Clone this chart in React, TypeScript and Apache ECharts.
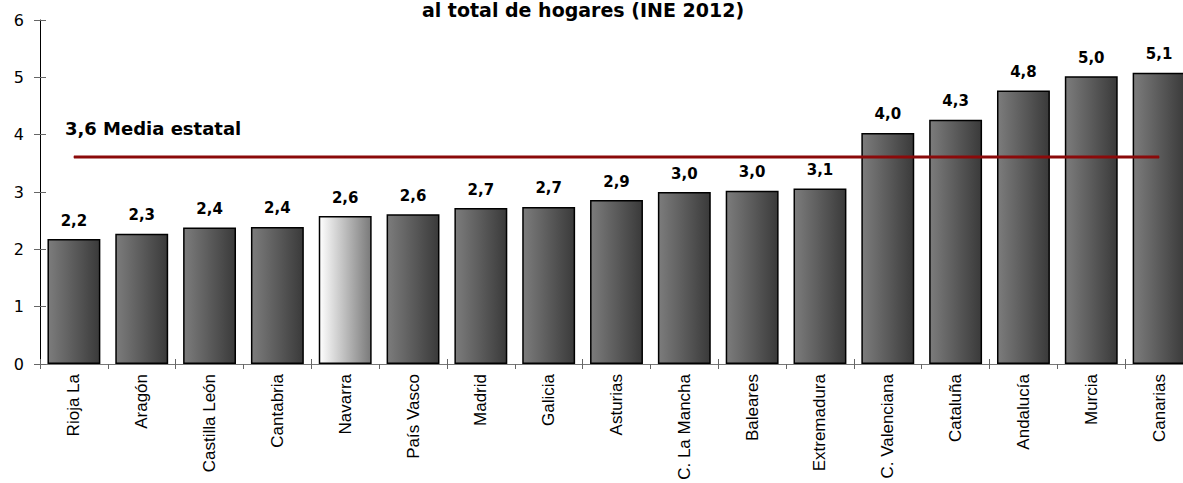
import React, { useEffect, useRef } from 'react';
import * as echarts from 'echarts';

const categories = [
  'Rioja La', 'Aragón', 'Castilla León', 'Cantabria', 'Navarra', 'País Vasco',
  'Madrid', 'Galicia', 'Asturias', 'C. La Mancha', 'Baleares', 'Extremadura',
  'C. Valenciana', 'Cataluña', 'Andalucía', 'Murcia', 'Canarias',
];
const values = [2.18, 2.27, 2.38, 2.39, 2.58, 2.61, 2.72, 2.74, 2.86, 3.0, 3.02, 3.06, 4.03, 4.26, 4.77, 5.02, 5.08];
const nationalMean = 3.61;
const meanLabel = 'Media estatal';
const highlighted = 'Navarra';
const titleText = 'al total de hogares (INE 2012)';
const yMin = 0;
const yMax = 6;
const yInterval = 1;

const fmt = (v: number) => v.toFixed(1).replace('.', ',');

export default function App() {
  const ref = useRef<HTMLDivElement>(null);
  useEffect(() => {
    if (!ref.current) return;
    const chart = echarts.init(ref.current, undefined, { renderer: 'svg' });
    const darkGrad = new echarts.graphic.LinearGradient(0, 0, 1, 0, [
      { offset: 0, color: '#7c7c7c' },
      { offset: 1, color: '#3a3a3a' },
    ]);
    const lightGrad = new echarts.graphic.LinearGradient(0, 0, 1, 0, [
      { offset: 0, color: '#ffffff' },
      { offset: 1, color: '#7a7a7a' },
    ]);
    const boldFont = { fontFamily: 'DejaVu Sans', fontWeight: 'bold' as const, color: '#000' };
    chart.setOption({
      animation: false,
      backgroundColor: '#fff',
      grid: { left: 40, right: 0, top: 20, bottom: 119, containLabel: false },
      graphic: [
        {
          type: 'text',
          x: 583,
          y: 10,
          style: {
            text: titleText,
            align: 'center',
            verticalAlign: 'middle',
            font: 'bold 19px "DejaVu Sans"',
            fill: '#000',
          },
        },
      ],
      xAxis: [
        {
          type: 'category',
          data: categories,
          position: 'bottom',
          axisLine: { show: true, lineStyle: { color: '#777', width: 1 } },
          axisTick: { show: true, inside: false, length: 5, lineStyle: { color: '#666' } },
          axisLabel: {
            rotate: 90,
            margin: 10,
            interval: 0,
            color: '#000',
            fontFamily: 'Liberation Sans',
            fontSize: 17,
          },
        },
        {
          type: 'category',
          data: categories,
          position: 'bottom',
          axisLine: { show: false },
          axisTick: { show: true, inside: true, length: 5, lineStyle: { color: '#666' } },
          axisLabel: { show: false },
        },
      ],
      yAxis: [
        {
          type: 'value',
          min: yMin,
          max: yMax,
          interval: yInterval,
          axisLine: { show: true, lineStyle: { color: '#000', width: 1 } },
          axisTick: { show: true, inside: false, length: 6, lineStyle: { color: '#666' } },
          axisLabel: { margin: 16, color: '#000', fontFamily: 'DejaVu Sans', fontSize: 16 },
          splitLine: { show: false },
        },
        {
          type: 'value',
          min: yMin,
          max: yMax,
          interval: yInterval,
          position: 'left',
          axisLine: { show: false },
          axisTick: { show: true, inside: true, length: 6, lineStyle: { color: '#666' } },
          axisLabel: { show: false },
          splitLine: { show: false },
        },
      ],
      series: [
        {
          type: 'bar',
          barCategoryGap: '22%',
          data: values.map((v, i) => ({
            value: v,
            itemStyle: {
              color: categories[i] === highlighted ? lightGrad : darkGrad,
              borderColor: '#000',
              borderWidth: 1.5,
            },
          })),
          label: {
            show: true,
            position: 'top',
            distance: 11,
            fontSize: 15,
            ...boldFont,
            formatter: (p: any) => fmt(p.value),
          },
          z: 2,
        },
        {
          type: 'line',
          data: categories.map((_, i) =>
            i === 0
              ? {
                  value: nationalMean,
                  label: {
                    show: true,
                    position: 'top',
                    align: 'left',
                    offset: [-9, -14],
                    fontSize: 18,
                    ...boldFont,
                    formatter: `${fmt(nationalMean)} ${meanLabel}`,
                  },
                }
              : nationalMean
          ),
          symbol: 'circle',
          symbolSize: 1,
          showSymbol: true,
          itemStyle: { color: '#8b0a0a' },
          lineStyle: { color: '#8b0a0a', width: 3 },
          label: { show: false },
          z: 5,
        },
      ],
    });
    return () => chart.dispose();
  }, []);
  return (
    <div style={{ position: 'absolute', left: 0, top: 0, width: 1183, height: 483, overflow: 'hidden', background: '#fff' }}>
      <div ref={ref} style={{ width: 1193, height: 483 }} />
    </div>
  );
}
